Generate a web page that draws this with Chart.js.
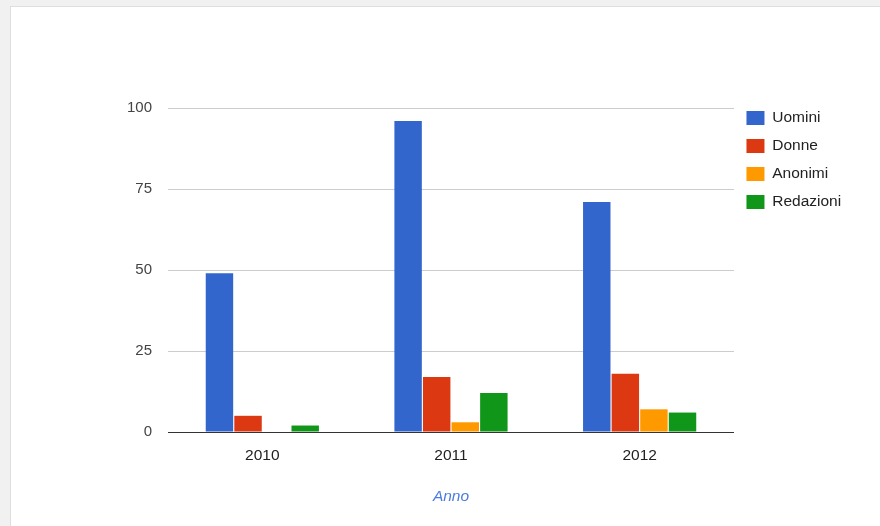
<!DOCTYPE html>
<html>
<head>
<meta charset="utf-8">
<script src="https://cdn.jsdelivr.net/npm/chart.js@4/dist/chart.umd.min.js"></script>
<style>
  html, body { margin: 0; padding: 0; width: 880px; height: 526px; overflow: hidden; background: #f1f1f1; }
  #panel { position: absolute; left: 10px; top: 6px; right: 0; bottom: 0; background: #fff; border-left: 1px solid #dedede; border-top: 1px solid #dedede; }
  #wrap { position: absolute; left: 0; top: 0; width: 880px; height: 526px; }
</style>
</head>
<body>
<div id="panel"></div>
<div id="wrap"><canvas id="c" width="880" height="526"></canvas></div>
<script>
const categories = ['2010', '2011', '2012'];
const seriesNames = ['Uomini', 'Donne', 'Anonimi', 'Redazioni'];
const uomini = [49, 96, 71];
const donne = [5, 17, 18];
const anonimi = [0, 3, 7];
const redazioni = [2, 12, 6];
const yTicks = [0, 25, 50, 75, 100];
const axisTitle = 'Anno';
const colors = ['#3366cc', '#dc3912', '#ff9900', '#109618'];

const values = [uomini, donne, anonimi, redazioni];
const FONT = "'Liberation Sans', Arial, sans-serif";

new Chart(document.getElementById('c'), {
  type: 'bar',
  data: {
    labels: categories,
    datasets: seriesNames.map((n, i) => ({
      label: n,
      data: values[i],
      backgroundColor: colors[i],
      borderWidth: 0,
      categoryPercentage: 0.606,
      barPercentage: 0.96
    }))
  },
  options: {
    responsive: false,
    animation: false,
    devicePixelRatio: 1,
    layout: { padding: { left: 0, right: 28.85, top: 97.75, bottom: 0 } },
    plugins: {
      tooltip: { enabled: false },
      title: { display: true, text: '', fullSize: false, font: { size: 10, lineHeight: 1 }, padding: { top: 0.25, bottom: 0 } },
      legend: {
        position: 'right',
        align: 'start',
        labels: {
          boxWidth: 18,
          boxHeight: 14,
          padding: 12.5,
          color: '#222',
          font: { family: FONT, size: 15.5 }
        }
      }
    },
    scales: {
      x: {
        grid: { display: false },
        border: { display: true, color: '#333', width: 1 },
        ticks: { color: '#222', padding: 6, font: { family: FONT, size: 15.5 } },
        title: { display: true, text: axisTitle, color: '#4a7be0', font: { family: FONT, size: 15.5, style: 'italic' }, padding: { top: 0, bottom: 20.2 } },
        afterFit: (s) => { s.height = 94; }
      },
      y: {
        min: yTicks[0],
        max: yTicks[yTicks.length - 1],
        afterBuildTicks: (s) => { s.ticks = yTicks.map(v => ({ value: v })); },
        grid: {
          drawTicks: false,
          color: (ctx) => (ctx.tick && ctx.tick.value === 0 ? '#333' : '#cccccc'),
          lineWidth: 1
        },
        border: { display: false },
        ticks: { color: '#444', padding: 16, font: { family: FONT, size: 15 } },
        afterFit: (s) => { s.width = 168; }
      }
    }
  }
});
</script>
</body>
</html>
